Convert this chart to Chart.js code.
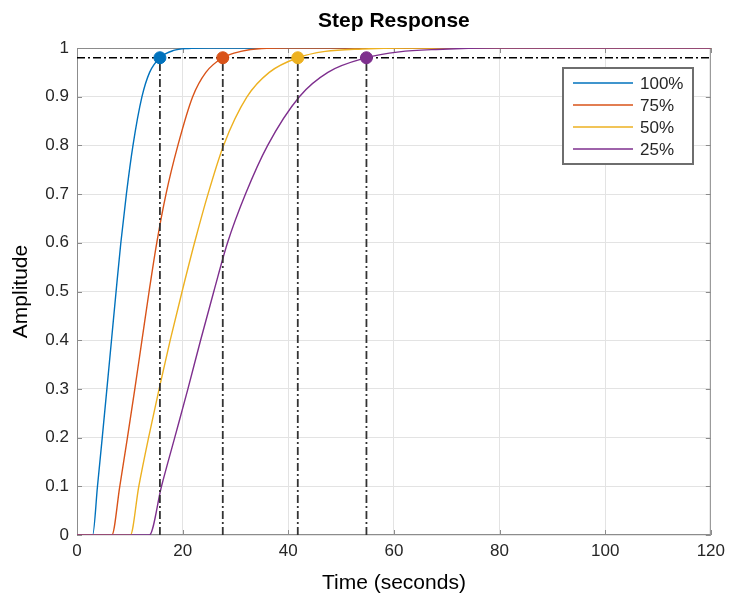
<!DOCTYPE html>
<html>
<head>
<meta charset="utf-8">
<script src="https://cdn.jsdelivr.net/npm/chart.js@4"></script>
<style>
  html, body { margin: 0; padding: 0; background: #fff; }
  #wrap { width: 731px; height: 596px; }
</style>
</head>
<body>
<div id="wrap"><canvas id="chart-step" width="731" height="596"></canvas></div>
<script>
'use strict';

const FONT = '"Liberation Sans", Arial, Helvetica, sans-serif';

// series (time in seconds, amplitude)
const LABELS = ['100%', '75%', '50%', '25%'];
const COLORS = ['#0072BD', '#D95319', '#EDB120', '#7E2F8E'];

const t100 = [0, 2.96, 3.88, 4.78, 5.66, 6.53, 7.4, 8.3, 9.35, 10.6, 12.3, 13.75, 15.7, 18.3, 21, 25, 120];
const v100 = [0, 0, 0.1, 0.2, 0.3, 0.4, 0.5, 0.6, 0.7, 0.8, 0.9, 0.95, 0.98, 0.995, 0.999, 1, 1];

const t75 = [0, 6.6, 8.1, 9.55, 10.95, 12.3, 13.65, 15.1, 16.85, 19.1, 21.9, 24.4, 27.6, 31, 35, 40, 120];
const v75 = [0, 0, 0.1, 0.2, 0.3, 0.4, 0.5, 0.6, 0.7, 0.8, 0.9, 0.95, 0.98, 0.993, 0.999, 1, 1];

const t50 = [0, 10.1, 11.7, 13.55, 15.55, 17.65, 19.9, 22.25, 24.8, 27.75, 32.2, 36.4, 41.8, 47, 54, 62, 120];
const v50 = [0, 0, 0.1, 0.2, 0.3, 0.4, 0.5, 0.6, 0.7, 0.8, 0.9, 0.95, 0.98, 0.993, 0.998, 1, 1];

const t25 = [0, 13.7, 16.0, 18.5, 21.0, 23.4, 25.9, 28.5, 31.9, 36.1, 42.1, 47.5, 54.8, 61, 68, 80, 120];
const v25 = [0, 0, 0.1, 0.2, 0.3, 0.4, 0.5, 0.6, 0.7, 0.8, 0.9, 0.95, 0.98, 0.992, 0.997, 1, 1];

// settling markers
const settleTimes = [15.7, 27.6, 41.8, 54.8];
const settleLevel = 0.98;
const finalValue = 1;

const xTicks = [0, 20, 40, 60, 80, 100, 120];
const yTicks = [0, 0.1, 0.2, 0.3, 0.4, 0.5, 0.6, 0.7, 0.8, 0.9, 1];

const pts = (ts, vs) => ts.map((t, i) => ({ x: t, y: vs[i] }));
const series = [pts(t100, v100), pts(t75, v75), pts(t50, v50), pts(t25, v25)];

const DASHDOT = [8, 3, 2, 3];

const datasets = [];

// steady state dotted line
datasets.push({
  label: '_final', data: [{ x: xTicks[0], y: finalValue }, { x: xTicks[xTicks.length - 1], y: finalValue }],
  borderColor: '#8a8a8a', borderWidth: 1.5, borderDash: [1, 2], pointRadius: 0, order: 10
});

// response curves
series.forEach((d, i) => {
  datasets.push({
    label: LABELS[i], data: d, borderColor: COLORS[i], borderWidth: 1.4,
    pointRadius: 0, cubicInterpolationMode: 'monotone', order: 9 - i
  });
});

// settle level line
datasets.push({
  label: '_level', data: [{ x: xTicks[0], y: settleLevel }, { x: xTicks[xTicks.length - 1], y: settleLevel }],
  borderColor: '#000', borderWidth: 1.6, borderDash: DASHDOT, pointRadius: 0, order: 4
});

// vertical drop lines + markers
settleTimes.forEach((t, i) => {
  datasets.push({
    label: '_drop' + i, data: [{ x: t, y: 0 }, { x: t, y: settleLevel }],
    borderColor: '#333', borderWidth: 1.8, borderDash: DASHDOT, pointRadius: 0, order: 3
  });
});
settleTimes.forEach((t, i) => {
  datasets.push({
    label: '_mark' + i, data: [{ x: t, y: settleLevel }], showLine: false,
    pointRadius: 6, pointHoverRadius: 6, pointBackgroundColor: COLORS[i], pointBorderColor: COLORS[i],
    borderColor: COLORS[i], order: 0
  });
});

// title, inward ticks, boxed legend (matlab look)
const matlabLook = {
  id: 'matlabLook',
  beforeDatasetsDraw(chart) {
    const { ctx, chartArea: a, scales } = chart;
    ctx.save();
    ctx.strokeStyle = '#8c8c8c';
    ctx.lineWidth = 1;
    const tl = 5;
    xTicks.forEach(v => {
      const x = Math.round(scales.x.getPixelForValue(v)) + 0.5;
      ctx.beginPath();
      ctx.moveTo(x, a.bottom); ctx.lineTo(x, a.bottom - tl);
      ctx.moveTo(x, a.top); ctx.lineTo(x, a.top + tl);
      ctx.stroke();
    });
    yTicks.forEach(v => {
      const y = Math.round(scales.y.getPixelForValue(v)) + 0.5;
      ctx.beginPath();
      ctx.moveTo(a.left, y); ctx.lineTo(a.left + tl, y);
      ctx.moveTo(a.right, y); ctx.lineTo(a.right - tl, y);
      ctx.stroke();
    });
    ctx.strokeRect(a.left + 0.5, a.top + 0.5, a.right - a.left - 1, a.bottom - a.top - 1);
    ctx.restore();
  },
  afterDraw(chart) {
    const { ctx, chartArea: a } = chart;
    ctx.save();
    ctx.fillStyle = '#000';
    ctx.font = 'bold 21px ' + FONT;
    ctx.textAlign = 'center';
    ctx.textBaseline = 'middle';
    ctx.fillText('Step Response', (a.left + a.right) / 2, 21);

    // legend box
    const bx = 563, by = 68, bw = 130, bh = 96;
    ctx.fillStyle = '#fff';
    ctx.fillRect(bx, by, bw, bh);
    ctx.strokeStyle = '#6e6e6e';
    ctx.lineWidth = 2;
    ctx.strokeRect(bx, by, bw, bh);
    ctx.font = '17px ' + FONT;
    ctx.textAlign = 'left';
    LABELS.forEach((lab, i) => {
      const y = by + 15 + i * 22;
      ctx.strokeStyle = COLORS[i];
      ctx.lineWidth = 1.5;
      ctx.beginPath();
      ctx.moveTo(bx + 10, y); ctx.lineTo(bx + 70, y);
      ctx.stroke();
      ctx.fillStyle = '#262626';
      ctx.fillText(lab, bx + 77, y + 1);
    });
    ctx.restore();
  }
};

new Chart(document.getElementById('chart-step'), {
  type: 'line',
  data: { datasets },
  options: {
    responsive: false,
    animation: false,
    layout: { padding: { top: 48, right: 19, bottom: 0, left: 0 } },
    plugins: { legend: { display: false }, tooltip: { enabled: false }, title: { display: false } },
    scales: {
      x: {
        type: 'linear', min: 0, max: 120,
        afterBuildTicks: s => { s.ticks = xTicks.map(v => ({ value: v })); },
        afterFit: s => { s.height = 61; },
        grid: { color: '#e3e3e3', drawTicks: false },
        border: { display: false },
        ticks: { color: '#262626', font: { family: FONT, size: 17 }, padding: 6, maxRotation: 0 },
        title: { display: true, text: 'Time (seconds)', color: '#000', font: { family: FONT, size: 21 }, padding: { top: 4, bottom: 0 } }
      },
      y: {
        type: 'linear', min: 0, max: 1,
        afterBuildTicks: s => { s.ticks = yTicks.map(v => ({ value: v })); },
        afterFit: s => { s.width = 77; },
        grid: { color: '#e3e3e3', drawTicks: false },
        border: { display: false },
        ticks: { color: '#262626', font: { family: FONT, size: 17 }, padding: 8,
                 callback: v => String(Math.round(v * 10) / 10) },
        title: { display: true, text: 'Amplitude', color: '#000', font: { family: FONT, size: 21 }, padding: { top: 9, bottom: 0 } }
      }
    }
  },
  plugins: [matlabLook]
});
</script>
</body>
</html>
